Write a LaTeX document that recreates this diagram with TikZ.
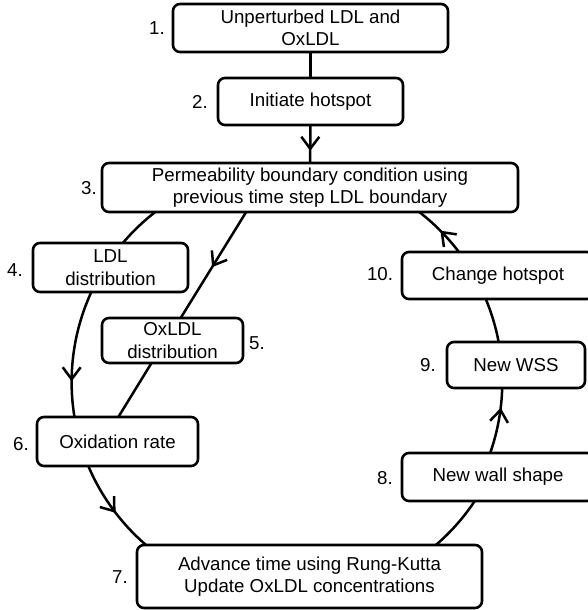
\documentclass[tikz,border=0pt]{standalone}
\usepackage{fontspec}
\setmainfont{Liberation Sans}
\usetikzlibrary{arrows.meta,decorations.markings}
\begin{document}
\begin{tikzpicture}[x=1pt,y=1pt,
  box/.style={draw, line width=2.6pt, rounded corners=7pt, inner sep=0pt, outer sep=0pt,
    align=center, fill=white, font=\fontsize{18.7}{22.5}\selectfont},
  num/.style={inner sep=0pt, font=\fontsize{18.7}{22.5}\selectfont},
  conn/.style={line width=2.5pt},
  midarrow/.style={postaction={decorate}, decoration={markings,
    mark=at position #1 with {\arrow[line width=2.5pt]{Straight Barb[length=12pt,width=18pt]}}}}
]
\clip (0,0) rectangle (588,610);
% boxes
\node[box, minimum width=275pt, minimum height=48pt] (n1) at (310.5,582) {Unperturbed LDL and\\OxLDL};
\node[box, minimum width=185pt, minimum height=47pt] (n2) at (310.5,508.5) {Initiate hotspot};
\node[box, minimum width=416pt, minimum height=49pt] (n3) at (310,422.5) {Permeability boundary condition using\\previous time step LDL boundary};
\node[box, minimum width=155pt, minimum height=49pt] (n4) at (110.5,342.5) {LDL\\distribution};
\node[box, minimum width=141pt, minimum height=45pt] (n5) at (172.5,269.5) {OxLDL\\distribution};
\node[box, minimum width=161pt, minimum height=49pt] (n6) at (117.5,168.5) {Oxidation rate};
\node[box, minimum width=345pt, minimum height=63pt] (n7) at (309.5,33.5) {Advance time using Rung-Kutta\\Update OxLDL concentrations};
\node[box, minimum width=192pt, minimum height=48pt] (n8) at (498,133) {New wall shape};
\node[box, minimum width=138pt, minimum height=46pt] (n9) at (516,245) {New WSS};
\node[box, minimum width=192pt, minimum height=47pt] (n10) at (498,334.5) {Change hotspot};
% step numbers
\node[num] (l1) at (157,582) {1.};
\node[num] (l2) at (200,508) {2.};
\node[num] (l3) at (89,421.5) {3.};
\node[num] (l4) at (15,340) {4.};
\node[num] (l5) at (257,267) {5.};
\node[num] (l6) at (21,166) {6.};
\node[num] (l7) at (120,33) {7.};
\node[num] (l8) at (385,132) {8.};
\node[num] (l9) at (428,245) {9.};
\node[num] (l10) at (380,336) {10.};
% straight connectors
\draw[conn] (n1) -- (n2);
\draw[conn, midarrow=0.68] (n2) -- (n3);
\draw[conn, midarrow=0.52] (n3.201.25) -- (n5.70.9);
\draw[conn] (n5.227.7) -- (n6.88.7);
% loop arcs (circle centre (287,228), radius 215)
\draw[conn] (n3.189.0) arc[start angle=127.75, end angle=139.72, radius=215];
\draw[conn, midarrow=0.72] (n4.232.5) arc[start angle=155.25, end angle=189.37, radius=215];
\draw[conn, midarrow=0.55] (n6.220.8) arc[start angle=203.0, end angle=229.3, radius=215];
\draw[conn] (n7.14.98) arc[start angle=310.7, end angle=326.39, radius=215];
\draw[conn, midarrow=0.7] (n8.108.65) arc[start angle=340.72, end angle=358.4, radius=215];
\draw[conn] (n9.127.74) arc[start angle=10.72, end angle=22.71, radius=215];
\draw[conn, midarrow=0.5] (n10.149.44) arc[start angle=37.2, end angle=52.25, radius=215];
\end{tikzpicture}
\end{document}
